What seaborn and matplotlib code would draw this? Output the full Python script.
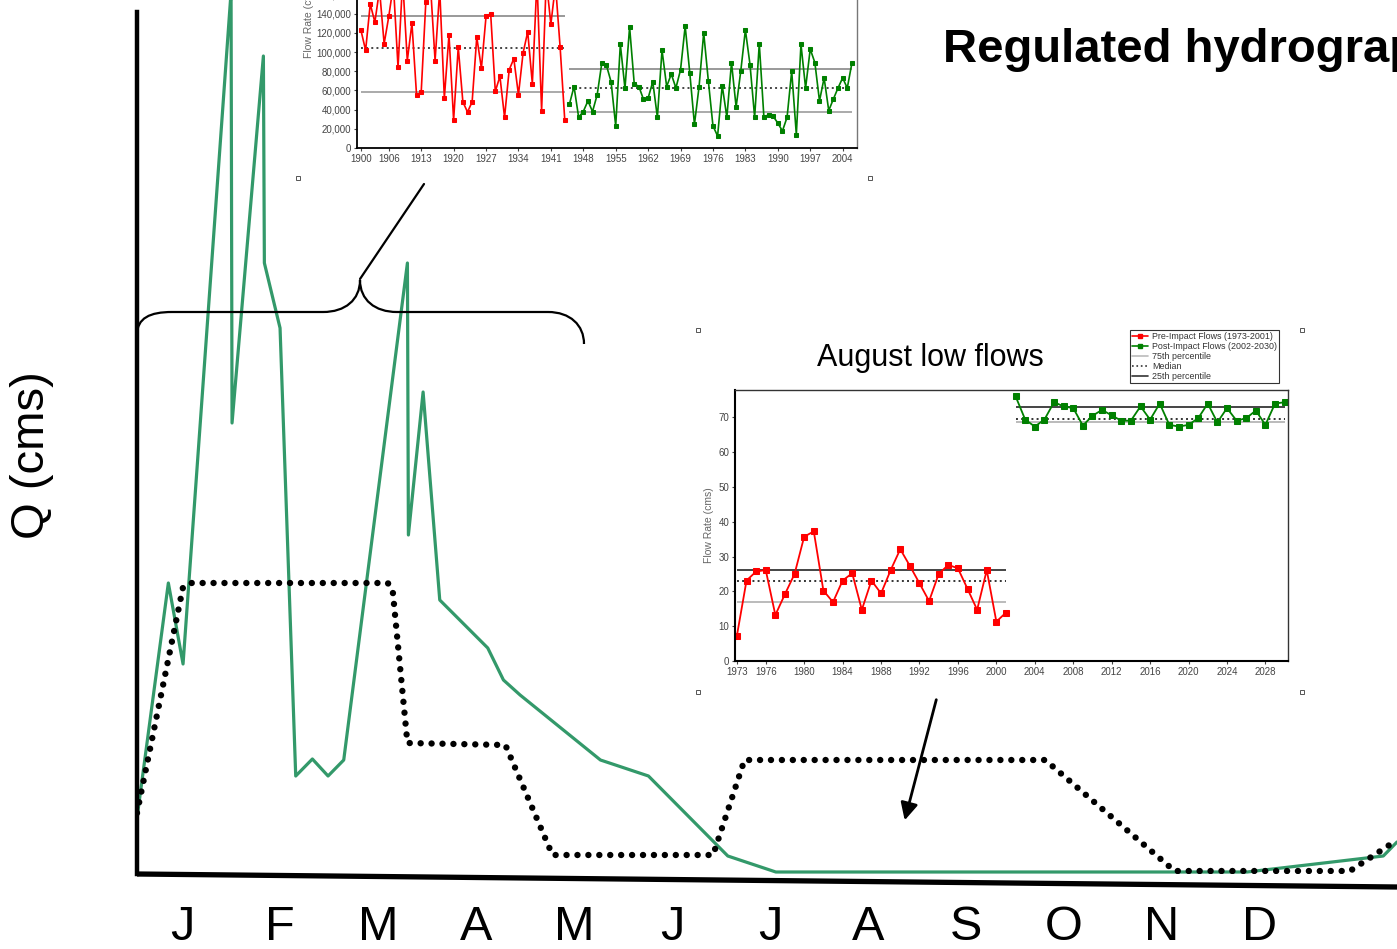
import matplotlib
matplotlib.use("Agg")
import matplotlib.pyplot as plt
import matplotlib.ticker as mticker
from matplotlib.path import Path
from matplotlib.patches import PathPatch, FancyArrowPatch
from matplotlib.lines import Line2D
from matplotlib import font_manager
import seaborn as sns

W, H = 1397, 949

# Main hydrograph: x in months from 1 Jan, Q in cms (no scale shown)
natural_month = [0.04, 0.36, 0.51, 1.00, 1.01, 1.33, 1.34, 1.50, 1.66, 1.83, 1.99, 2.15, 2.80,
                 2.81, 2.96, 3.13, 3.62, 3.78, 3.95, 4.77, 5.26, 6.07, 6.56, 11.37, 12.76, 12.90]
natural_q = [5.4, 28.9, 20.8, 88.0, 44.9, 81.6, 60.9, 54.4, 9.6, 11.3, 9.6, 11.2, 60.9,
             33.7, 48.0, 27.2, 22.4, 19.2, 17.7, 11.2, 9.6, 1.6, 0.0, 0.0, 1.6, 3.0]
regulated_month = [0.04, 0.51, 0.58, 2.60, 2.65, 2.80, 3.80, 4.28, 5.92, 6.24, 9.31, 10.63, 12.42, 12.90]
regulated_q = [5.9, 28.5, 28.9, 28.9, 28.1, 12.9, 12.7, 1.7, 1.7, 11.2, 11.2, 0.1, 0.1, 3.2]
month_labels = ["J", "F", "M", "A", "M", "J", "J", "A", "S", "O", "N", "D"]

# Upper inset: annual flows
pre_years_annual = list(range(1900, 1945))
pre_annual = [122500, 101700, 150000, 131000, 165000, 108600, 137000, 170000, 84000, 175000,
              91000, 130000, 55000, 58000, 152000, 170000, 91000, 165000, 52000, 118000,
              29000, 105000, 48000, 37500, 48000, 115500, 83000, 137000, 140000, 59000,
              74600, 32000, 81500, 93000, 55500, 99000, 121000, 67000, 175000, 39000,
              175000, 129000, 170000, 105000, 29000]
post_years_annual = list(range(1945, 2007))
post_annual = [45500, 64000, 32000, 38000, 49000, 38000, 55500, 88500, 86000, 69000,
               23000, 108000, 62000, 126000, 67000, 64000, 50700, 52000, 69000, 32000,
               102000, 64000, 77000, 62500, 81500, 127000, 78000, 24600, 64000, 120000,
               70000, 23000, 12500, 65000, 32000, 89000, 42700, 80000, 123000, 86800,
               32000, 108600, 32000, 34700, 33000, 26000, 17700, 32000, 80000, 14000,
               108000, 62500, 103000, 89000, 49000, 73000, 39000, 51000, 62500, 73000,
               62500, 88500]
pre_annual_pct = [138000, 104000, 58000]   # upper, median, lower
post_annual_pct = [82000, 63000, 37000]
annual_ticks = [1900, 1906, 1913, 1920, 1927, 1934, 1941, 1948, 1955, 1962, 1969, 1976, 1983, 1990, 1997, 2004]

# Lower inset: August low flows
pre_years_aug = list(range(1973, 2002))
pre_aug = [7.3, 23.1, 25.7, 26.1, 13.2, 19.2, 25.0, 35.7, 37.2, 20.2,
           16.9, 23.1, 25.2, 14.7, 23.1, 19.4, 26.1, 32.1, 27.3, 22.3,
           17.2, 25.0, 27.6, 26.6, 20.7, 14.7, 26.1, 11.3, 13.9]
post_years_aug = list(range(2002, 2031))
post_aug = [76.0, 69.3, 67.3, 69.3, 74.3, 73.1, 72.6, 67.6, 70.4, 72.1,
            70.5, 69.0, 69.0, 73.1, 69.3, 73.9, 67.8, 67.3, 67.8, 69.7,
            73.9, 68.5, 72.6, 69.0, 69.7, 71.9, 67.8, 73.9, 74.3]
pre_aug_pct = [26.0, 23.0, 16.9]
post_aug_pct = [73.0, 69.4, 68.5]
aug_ticks = [1973, 1976, 1980, 1984, 1988, 1992, 1996, 2000, 2004, 2008, 2012, 2016, 2020, 2024, 2028]

sns.set_style("white")
plt.rcParams['font.family'] = ['Liberation Sans', 'DejaVu Sans']
plt.rcParams['text.color'] = 'black'
plt.rcParams['axes.labelcolor'] = 'black'
plt.rcParams['xtick.color'] = 'black'
plt.rcParams['ytick.color'] = 'black'
names = {f.name for f in font_manager.fontManager.ttflist}
narrow = 'Liberation Sans Narrow' if 'Liberation Sans Narrow' in names else 'Liberation Sans'

GREEN = '#33996a'
RED = '#ff0000'
DGREEN = '#008000'


def px(x, y):
    return (x / W, 1 - y / H)


def px_rect(x0, y0, x1, y1):
    return [x0 / W, 1 - y1 / H, (x1 - x0) / W, (y1 - y0) / H]


fig = plt.figure(figsize=(W / 100, H / 100), dpi=100)

# # Main hydrograph # #
ax = fig.add_axes(px_rect(137, 0, 1397, 874))
sns.lineplot(x=natural_month, y=natural_q, ax=ax, color=GREEN, lw=2.3,
             sort=False, estimator=None, zorder=2)
sns.lineplot(x=regulated_month, y=regulated_q, ax=ax, color='black', lw=4.6,
             linestyle=(0, (0.01, 1.7)), dash_capstyle='round',
             sort=False, estimator=None, zorder=3)
ax.set_xlim(0.04, 12.9)
ax.set_ylim(-0.2, 87.2)
ax.set_xticks([i + 0.5 for i in range(12)])
ax.set_xticklabels(month_labels, fontsize=35, family=[narrow, 'DejaVu Sans'], color='black')
ax.tick_params(axis='x', length=0, pad=22)
ax.set_yticks([])
ax.set_xlabel('')
ax.set_ylabel('')
ax.spines[['right', 'top', 'bottom']].set_visible(False)
ax.spines['left'].set_linewidth(3.2)
ax.spines['left'].set_color('black')
ax.spines['left'].set_bounds(-0.2, 86.0)
# slightly tilted baseline
ax.plot([0, 1], [0, -13 / 874], transform=ax.transAxes, color='black', lw=3.8,
        clip_on=False, solid_capstyle='butt')

fig.text(*px(32, 455), 'Q (cms)', rotation=90, ha='center', va='center', fontsize=34)
fig.text(*px(943, 50), 'Regulated hydrograph', ha='left', va='center',
         fontsize=34, fontweight='bold')

# brace + pointer to the upper inset
verts = [px(137, 335), px(137, 318), px(150, 312), px(172, 312),
         px(323, 312),
         px(345, 312), px(360, 300), px(360, 280),
         px(360, 300), px(375, 312), px(397, 312),
         px(548, 312),
         px(570, 312), px(584, 325), px(584, 344)]
codes = [Path.MOVETO, Path.CURVE4, Path.CURVE4, Path.CURVE4,
         Path.LINETO,
         Path.CURVE4, Path.CURVE4, Path.CURVE4,
         Path.CURVE4, Path.CURVE4, Path.CURVE4,
         Path.LINETO,
         Path.CURVE4, Path.CURVE4, Path.CURVE4]
fig.add_artist(PathPatch(Path(verts, codes), facecolor='none', edgecolor='black',
                         lw=1.6, transform=fig.transFigure))
fig.add_artist(Line2D([px(360, 279)[0], px(424, 184)[0]], [px(360, 279)[1], px(424, 184)[1]],
                      color='black', lw=1.6, transform=fig.transFigure))
fig.add_artist(FancyArrowPatch(px(937, 697), px(904, 823), transform=fig.transFigure,
                               arrowstyle='-|>', mutation_scale=26, lw=2, color='black'))

# # Upper inset: annual flows # #
ax1 = fig.add_axes(px_rect(357, 148 - 260 * 0.96, 857, 148))
ax1.set_facecolor('white')
sns.lineplot(x=pre_years_annual, y=pre_annual, ax=ax1, color=RED, lw=1.2,
             marker='s', markersize=3.2, markeredgecolor=RED)
sns.lineplot(x=post_years_annual, y=post_annual, ax=ax1, color=DGREEN, lw=1.2,
             marker='s', markersize=3.2, markeredgecolor=DGREEN)
for y, c, ls in zip(pre_annual_pct, ['#999999', '#444444', '#aaaaaa'], ['-', ':', '-']):
    ax1.hlines(y, pre_years_annual[0], pre_years_annual[-1], colors=c, linestyles=ls, lw=1.4, zorder=1)
for y, c, ls in zip(post_annual_pct, ['#999999', '#444444', '#aaaaaa'], ['-', ':', '-']):
    ax1.hlines(y, post_years_annual[0], post_years_annual[-1], colors=c, linestyles=ls, lw=1.4, zorder=1)
ax1.set_xlim(1899.14, 2007.1)
ax1.set_ylim(0, 260000)
ax1.set_xticks(annual_ticks)
ax1.yaxis.set_major_locator(mticker.MultipleLocator(20000))
ax1.yaxis.set_major_formatter(mticker.StrMethodFormatter('{x:,.0f}'))
ax1.tick_params(labelsize=7, colors='#444444', length=2, width=0.8, pad=2, left=True, bottom=True)
ax1.set_ylabel('Flow Rate (cfs)', fontsize=7.5, color='#666666', labelpad=2)
ax1.set_xlabel('')
for s in ['left', 'bottom']:
    ax1.spines[s].set_color('black')
    ax1.spines[s].set_linewidth(1.3)
for s in ['right', 'top']:
    ax1.spines[s].set_color('#777777')
    ax1.spines[s].set_linewidth(1)

# # Lower inset: August low flows # #
ax2 = fig.add_axes(px_rect(735, 390, 1288, 661))
ax2.set_facecolor('white')
sns.lineplot(x=pre_years_aug, y=pre_aug, ax=ax2, color=RED, lw=1.3,
             marker='s', markersize=3.8, markeredgecolor=RED)
sns.lineplot(x=post_years_aug, y=post_aug, ax=ax2, color=DGREEN, lw=1.3,
             marker='s', markersize=3.8, markeredgecolor=DGREEN)
for y, c, ls in zip(pre_aug_pct, ['#444444', '#333333', '#bbbbbb'], ['-', ':', '-']):
    ax2.hlines(y, pre_years_aug[0], pre_years_aug[-1], colors=c, linestyles=ls, lw=1.4, zorder=1)
for y, c, ls in zip(post_aug_pct, ['#444444', '#333333', '#bbbbbb'], ['-', ':', '-']):
    ax2.hlines(y, post_years_aug[0], post_years_aug[-1], colors=c, linestyles=ls, lw=1.4, zorder=1)
ax2.set_xlim(1972.8, 2030.35)
ax2.set_ylim(0, 77.8)
ax2.set_xticks(aug_ticks)
ax2.set_yticks(range(0, 80, 10))
ax2.tick_params(labelsize=7, colors='#444444', length=2, width=0.8, pad=2, left=True, bottom=True)
ax2.set_ylabel('Flow Rate (cms)', fontsize=7.5, color='#666666', labelpad=3)
ax2.set_xlabel('')
for s in ['left', 'bottom']:
    ax2.spines[s].set_color('black')
    ax2.spines[s].set_linewidth(1.5)
for s in ['right', 'top']:
    ax2.spines[s].set_color('#333333')
    ax2.spines[s].set_linewidth(1)

handles = [
    Line2D([], [], color=RED, marker='s', markersize=2.5, lw=1.2),
    Line2D([], [], color=DGREEN, marker='s', markersize=2.5, lw=1.2),
    Line2D([], [], color='#bbbbbb', lw=1.2),
    Line2D([], [], color='#333333', lw=1.2, ls=':'),
    Line2D([], [], color='#333333', lw=1.2),
]
labels = ['Pre-Impact Flows (1973-2001)', 'Post-Impact Flows (2002-2030)',
          '75th percentile', 'Median', '25th percentile']
leg = ax2.legend(handles, labels, loc='upper left', bbox_to_anchor=px(1130, 330),
                 bbox_transform=fig.transFigure, fontsize=6.4, frameon=True, fancybox=False,
                 edgecolor='black', borderpad=0.25, labelspacing=0.1, handlelength=1.8,
                 handletextpad=0.4, borderaxespad=0)
leg.get_frame().set_linewidth(0.8)
for t in leg.get_texts():
    t.set_color('#333333')

fig.text(*px(930, 358), 'August low flows', ha='center', va='center', fontsize=22)

# little selection handles around the pasted charts
for hx, hy in [(298, 178), (870, 178), (698, 330), (1302, 330), (698, 692), (1302, 692)]:
    fig.add_artist(Line2D([hx / W], [1 - hy / H], marker='s', markersize=2.5,
                          markerfacecolor='white', markeredgecolor='#555555',
                          markeredgewidth=0.7, transform=fig.transFigure))

plt.savefig('out.png', dpi=100)
